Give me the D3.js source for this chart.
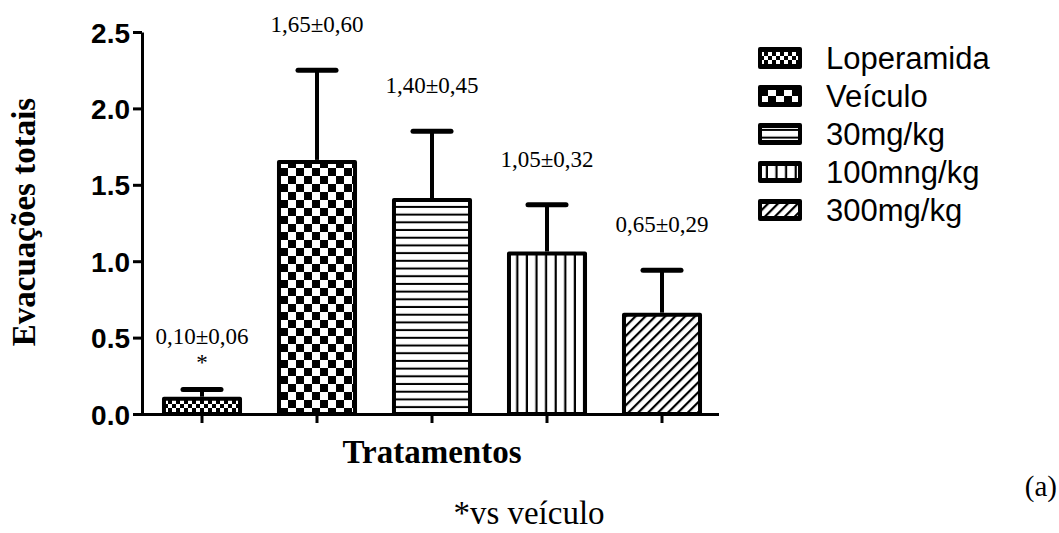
<!DOCTYPE html>
<html><head><meta charset="utf-8">
<script src="https://cdn.jsdelivr.net/npm/d3@7"></script>
<style>
  body { margin: 0; background: #fff; }
  svg text { fill: #000; }
</style>
</head><body>
<svg id="chart" width="1059" height="533"></svg>
<script>
// Treatment groups, means and upper error (SEM)
const categories = ["Loperamida", "Veículo", "30mg/kg", "100mng/kg", "300mg/kg"];
const means = [0.10, 1.65, 1.40, 1.05, 0.65];
const errors = [0.06, 0.60, 0.45, 0.32, 0.29];
const valueLabels = ["0,10±0,06", "1,65±0,60", "1,40±0,45", "1,05±0,32", "0,65±0,29"];
const significance = ["*", "", "", "", ""];
const yTicks = [0, 0.5, 1.0, 1.5, 2.0, 2.5];
const patternIds = ["chkFine", "chkLarge", "hLines", "vLines", "diag"];

const svg = d3.select("#chart");
const defs = svg.append("defs");

// Fill patterns
function checker(id, cell) {
  const p = defs.append("pattern").attr("id", id).attr("patternUnits", "userSpaceOnUse")
    .attr("width", cell * 2).attr("height", cell * 2);
  p.append("rect").attr("width", cell * 2).attr("height", cell * 2).attr("fill", "#fff");
  p.append("rect").attr("width", cell).attr("height", cell).attr("fill", "#000");
  p.append("rect").attr("x", cell).attr("y", cell).attr("width", cell).attr("height", cell).attr("fill", "#000");
}
checker("chkFine", 4);
checker("chkLarge", 8);
{
  const p = defs.append("pattern").attr("id", "hLines").attr("patternUnits", "userSpaceOnUse")
    .attr("width", 10).attr("height", 7.7);
  p.append("rect").attr("width", 10).attr("height", 7.7).attr("fill", "#fff");
  p.append("rect").attr("y", 5.7).attr("width", 10).attr("height", 2).attr("fill", "#000");
}
{
  const p = defs.append("pattern").attr("id", "vLines").attr("patternUnits", "userSpaceOnUse")
    .attr("width", 9.6).attr("height", 10);
  p.append("rect").attr("width", 9.6).attr("height", 10).attr("fill", "#fff");
  p.append("rect").attr("x", 7.4).attr("width", 2.2).attr("height", 10).attr("fill", "#000");
}
{
  const p = defs.append("pattern").attr("id", "diag").attr("patternUnits", "userSpaceOnUse")
    .attr("width", 7).attr("height", 7).attr("patternTransform", "rotate(45)");
  p.append("rect").attr("width", 7).attr("height", 7).attr("fill", "#fff");
  p.append("rect").attr("x", 0).attr("width", 2.2).attr("height", 7).attr("fill", "#000");
}

// Scales
const x = d3.scaleBand().domain(categories).range([144.5, 719.5])
  .paddingInner(0.304).paddingOuter(0.152);
const y = d3.scaleLinear().domain([0, 2.5]).range([414, 32]);

const serif = "'Liberation Serif', 'Times New Roman', serif";
const sans = "'Liberation Sans', Arial, sans-serif";

// Bars
const g = svg.append("g");
const idx = d3.range(categories.length);
g.selectAll("rect.bar").data(idx).join("rect").attr("class", "bar")
  .attr("x", i => x(categories[i]) + 2)
  .attr("width", x.bandwidth() - 4)
  .attr("y", i => y(means[i]))
  .attr("height", i => y(0) - y(means[i]))
  .attr("fill", i => `url(#${patternIds[i]})`)
  .attr("stroke", "#000").attr("stroke-width", 4)
  .attr("stroke-linejoin", "round");

// Error bars (upper only)
const cx = i => x(categories[i]) + x.bandwidth() / 2;
g.selectAll("line.stem").data(idx).join("line").attr("class", "stem")
  .attr("x1", cx).attr("x2", cx)
  .attr("y1", i => y(means[i]) - 2).attr("y2", i => y(means[i] + errors[i]))
  .attr("stroke", "#000").attr("stroke-width", 4);
g.selectAll("line.cap").data(idx).join("line").attr("class", "cap")
  .attr("x1", i => cx(i) - 19).attr("x2", i => cx(i) + 19)
  .attr("y1", i => y(means[i] + errors[i])).attr("y2", i => y(means[i] + errors[i]))
  .attr("stroke", "#000").attr("stroke-width", 5).attr("stroke-linecap", "round");

// Value labels
g.selectAll("text.val").data(idx).join("text").attr("class", "val")
  .attr("x", cx)
  .attr("y", i => y(means[i] + errors[i]) - (significance[i] ? 46 : 38))
  .attr("text-anchor", "middle")
  .style("font-family", serif).style("font-size", "23px")
  .text(i => valueLabels[i]);
g.selectAll("text.sig").data(idx.filter(i => significance[i])).join("text").attr("class", "sig")
  .attr("x", cx)
  .attr("y", i => y(means[i] + errors[i]) - 20)
  .attr("text-anchor", "middle")
  .style("font-family", serif).style("font-size", "23px")
  .text(i => significance[i]);

// Y axis
const yAxis = svg.append("g").attr("transform", "translate(142,0)")
  .call(d3.axisLeft(y).tickValues(yTicks).tickFormat(d3.format(".1f"))
    .tickSize(9).tickSizeOuter(0).tickPadding(3));
yAxis.select(".domain").attr("stroke", "#000").attr("stroke-width", 3);
yAxis.selectAll(".tick line").attr("stroke", "#000").attr("stroke-width", 3);
yAxis.selectAll(".tick text").style("font-family", sans).style("font-weight", "bold")
  .style("font-size", "28px").attr("dy", "0.36em");

// X axis
const xAxis = svg.append("g").attr("transform", "translate(0,414)")
  .call(d3.axisBottom(x).tickSize(9).tickSizeOuter(0).tickFormat(""));
xAxis.select(".domain").attr("d", "M140.5,0.5H719").attr("stroke", "#000").attr("stroke-width", 3);
xAxis.selectAll(".tick line").attr("stroke", "#000").attr("stroke-width", 3);

// Axis titles
svg.append("text").attr("x", 432).attr("y", 463).attr("text-anchor", "middle")
  .style("font-family", serif).style("font-weight", "bold").style("font-size", "33px")
  .text("Tratamentos");
svg.append("text").attr("transform", "translate(35,222) rotate(-90)").attr("text-anchor", "middle")
  .style("font-family", serif).style("font-weight", "bold").style("font-size", "33px")
  .text("Evacuações totais");

// Legend
const leg = svg.append("g");
const rowY = i => 58 + i * 38;
leg.selectAll("rect.sw").data(idx).join("rect").attr("class", "sw")
  .attr("x", 758).attr("y", i => rowY(i) - 11).attr("width", 44).attr("height", 22)
  .attr("rx", 2).attr("fill", "#000");
leg.selectAll("rect.swi").data(idx).join("rect").attr("class", "swi")
  .attr("x", 762).attr("y", i => rowY(i) - 6).attr("width", 36).attr("height", 12)
  .attr("fill", i => `url(#${patternIds[i]})`);
leg.selectAll("text").data(idx).join("text")
  .attr("x", 826).attr("y", i => rowY(i)).attr("dy", "0.36em")
  .style("font-family", sans).style("font-size", "31px")
  .text(i => categories[i]);

// Panel letter and footnote
svg.append("text").attr("x", 1057).attr("y", 496).attr("text-anchor", "end")
  .style("font-family", serif).style("font-size", "29px").text("(a)");
svg.append("text").attr("x", 529).attr("y", 524).attr("text-anchor", "middle")
  .style("font-family", serif).style("font-size", "33px").text("*vs veículo");
</script>
</body></html>
